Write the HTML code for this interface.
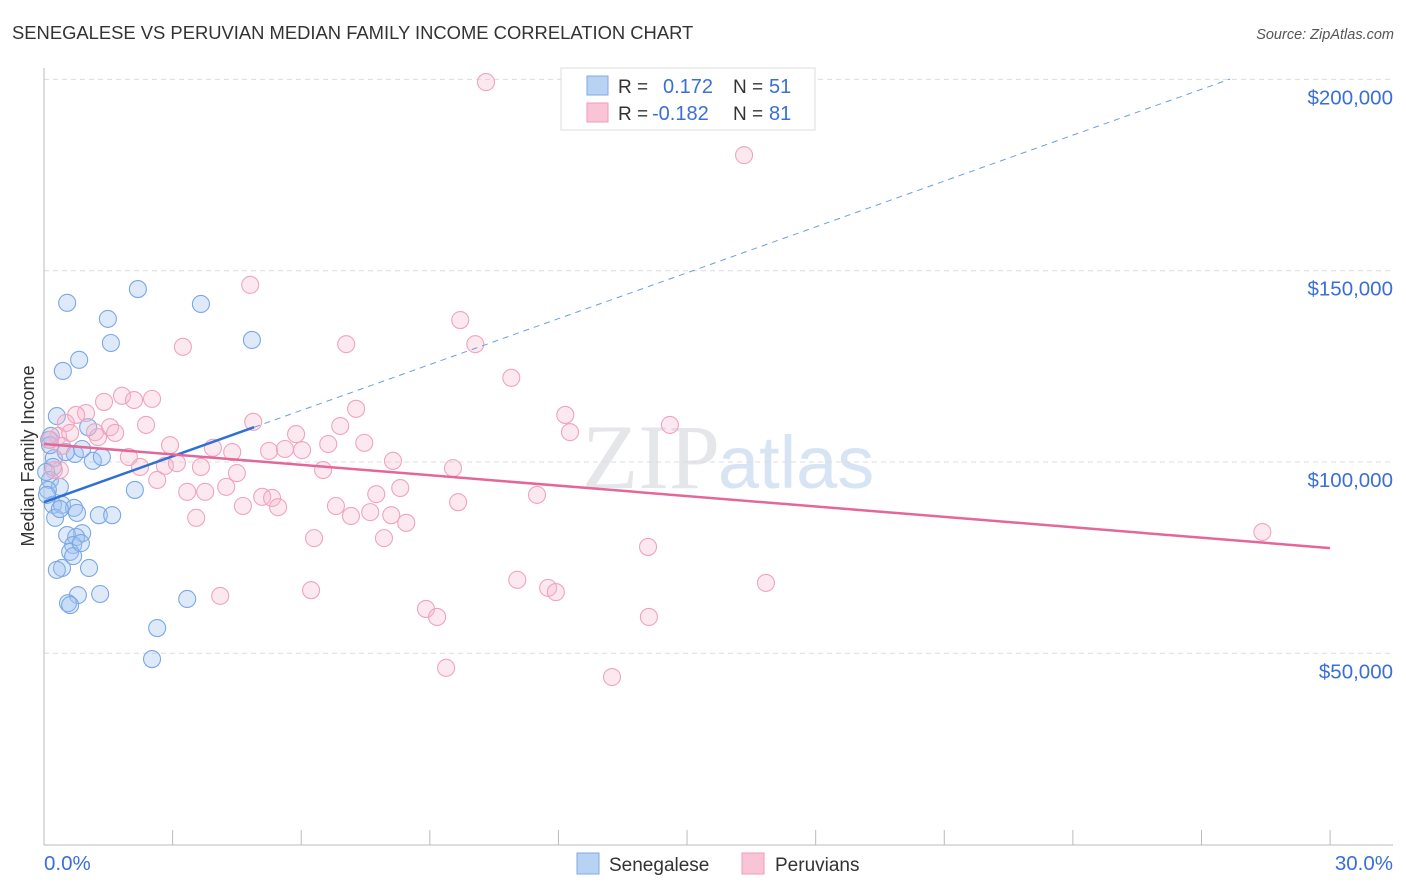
<!DOCTYPE html>
<html><head><meta charset="utf-8"><style>
body{margin:0;background:#fff;font-family:"Liberation Sans",sans-serif}
#c{position:relative;width:1406px;height:892px;overflow:hidden}
</style></head><body><div id="c">
<svg id="s" width="1406" height="892">
<text x="12" y="39" font-size="18.4" fill="#333">SENEGALESE VS PERUVIAN MEDIAN FAMILY INCOME CORRELATION CHART</text>
<text x="1394" y="39" font-size="14.5" fill="#555" text-anchor="end" font-style="italic">Source: ZipAtlas.com</text>
<text x="720" y="488" font-size="92" fill="#e4e6ea" text-anchor="end" font-family="Liberation Serif,serif">ZIP</text>
<text x="718" y="488" font-size="74" fill="#d6e4f4">atlas</text>
<text transform="translate(34,456) rotate(-90)" font-size="18" fill="#333" text-anchor="middle">Median Family Income</text>
<g id="grid"></g><g id="pts"></g><g id="lines"></g>
<g>
<rect x="561" y="68" width="254" height="62" fill="#fff" stroke="#ddd"/>
<rect x="587" y="76" width="21" height="19" fill="#b8d2f4" stroke="#7ea9e6"/>
<rect x="587" y="103" width="21" height="19" fill="#f9c5d6" stroke="#f09ab8"/>
<text x="618" y="93" font-size="19" fill="#333">R =</text>
<text x="663" y="93" font-size="20" fill="#3a6fd8">0.172</text>
<text x="733" y="93" font-size="19" fill="#333">N =</text>
<text x="769" y="93" font-size="20" fill="#3a6fd8">51</text>
<text x="618" y="120" font-size="19" fill="#333">R =</text>
<text x="652" y="120" font-size="20" fill="#3a6fd8">-0.182</text>
<text x="733" y="120" font-size="19" fill="#333">N =</text>
<text x="769" y="120" font-size="20" fill="#3a6fd8">81</text>
</g>
<g>
<rect x="577" y="853" width="22" height="21" fill="#b8d2f4" stroke="#7ea9e6"/>
<text x="609" y="871" font-size="19" fill="#333">Senegalese</text>
<rect x="742" y="853" width="22" height="21" fill="#f9c5d6" stroke="#f09ab8"/>
<text x="775" y="871" font-size="19" fill="#333">Peruvians</text>
</g>
</svg></div>
<script>
const blueX=[0.54,2.19,3.66,1.49,1.56,4.85,0.82,0.44,0.30,0.16,1.03,0.72,0.23,0.51,1.14,1.35,0.89,0.21,0.14,0.37,0.09,2.12,0.21,0.42,0.70,1.28,1.59,0.26,0.77,0.54,0.89,0.75,0.68,0.61,0.68,1.05,0.42,0.30,0.79,1.31,0.56,0.61,3.34,2.64,2.52,0.12,0.07,0.05,0.14,0.37,0.86];
const blueY=[141.6,145.2,141.3,137.4,131.1,131.9,126.7,123.8,112.0,106.8,109.1,102.1,101.0,102.6,100.3,101.3,103.4,98.7,95.3,93.5,92.7,92.7,88.8,88.8,88.0,86.1,86.1,85.4,86.7,80.9,81.4,80.4,78.3,76.5,75.4,72.3,72.3,71.8,65.2,65.5,63.1,62.6,64.2,56.6,48.5,105.8,91.4,97.4,104.4,87.7,78.8];
const pinkX=[10.31,16.33,4.81,9.71,3.24,7.05,10.06,10.90,1.82,2.52,2.10,1.40,7.28,12.16,4.88,2.38,0.98,0.75,0.51,0.33,0.61,0.14,1.19,1.54,1.66,1.26,14.60,5.88,6.91,12.27,3.94,4.39,5.25,5.62,6.02,6.63,7.47,2.94,1.98,8.14,0.37,2.24,2.82,3.10,3.66,4.50,6.51,9.54,2.64,3.34,3.76,4.25,5.09,5.32,5.46,4.64,6.81,7.75,8.31,9.66,11.50,7.16,7.61,8.10,8.45,3.55,6.30,7.93,14.09,28.42,11.04,11.76,11.94,16.84,6.23,4.11,8.91,9.17,14.11,9.38,13.25,0.23,0.42];
const pinkY=[199.3,180.2,146.3,137.1,130.1,130.8,130.8,122.0,117.3,116.5,116.2,115.7,113.9,112.3,110.5,109.7,112.8,112.3,110.2,106.8,107.6,105.8,107.8,109.1,107.6,106.5,109.7,107.3,109.4,107.8,103.7,102.6,102.9,103.4,103.1,104.7,105.0,104.4,101.3,100.3,97.9,98.7,99.0,99.7,98.7,97.1,97.9,98.4,95.3,92.2,92.2,93.5,90.9,90.6,88.2,88.5,88.5,91.6,93.2,89.5,91.4,85.9,86.9,86.1,84.1,85.4,80.1,80.1,77.8,81.7,69.2,67.1,66.0,68.4,66.5,65.0,61.6,59.5,59.5,46.2,43.8,97.9,104.2];
const yTicks=[50,100,150,200];
const yTickLabels=["$50,000","$100,000","$150,000","$200,000"];
const blueTrend=[89.5,200.1]; // at x=0 and x=27.67
const pinkTrend=[104.7,77.5]; // at x=0 and x=30
const NS="http://www.w3.org/2000/svg";
const sx=v=>44+v*42.87;
const sy=v=>462-(v-100)*3.826;
function mk(tag,attrs,parent){const e=document.createElementNS(NS,tag);for(const k in attrs)e.setAttribute(k,attrs[k]);parent.appendChild(e);return e;}
const grid=document.getElementById('grid');
yTicks.forEach((t,i)=>{
 const l=mk('line',{x1:44,x2:1393,y1:sy(t),y2:sy(t),stroke:'#dcdcdc','stroke-dasharray':'5,4'},grid);
 
 
 const tx=mk('text',{x:1393,y:sy(t)+25,'font-size':20.5,fill:'#3a6fd8','text-anchor':'end'},grid);
 tx.textContent=yTickLabels[i];
 
 
});
mk('line',{x1:44,x2:44,y1:68,y2:845,stroke:'#bbb'},grid);
mk('line',{x1:44,x2:1393,y1:845,y2:845,stroke:'#bbb'},grid);
for(let i=0;i<=10;i++){const x=sx(i*3);const t=mk('line',{x1:x,x2:x,y1:830,y2:845,stroke:'#bbb'},grid);
 
 }
const xl0=mk('text',{x:44,y:870,'font-size':20.5,fill:'#3a6fd8'},grid);xl0.textContent='0.0%';


const xl1=mk('text',{x:1393,y:870,'font-size':20.5,fill:'#3a6fd8','text-anchor':'end'},grid);xl1.textContent='30.0%';


const pts=document.getElementById('pts');
blueX.forEach((x,i)=>{const c=mk('circle',{cx:sx(x),cy:sy(blueY[i]),r:8.5,fill:'rgba(160,196,240,0.35)',stroke:'#7aa8e4','stroke-width':1.1},pts);
 
 });
pinkX.forEach((x,i)=>{const c=mk('circle',{cx:sx(x),cy:sy(pinkY[i]),r:8.5,fill:'rgba(246,182,204,0.3)',stroke:'#f0a3be','stroke-width':1.1},pts);
 
 });
const lines=document.getElementById('lines');
const bAt=x=>blueTrend[0]+(blueTrend[1]-blueTrend[0])*x/27.67;
const bl=mk('line',{x1:sx(0),y1:sy(bAt(0)),x2:sx(4.9),y2:sy(bAt(4.9)),stroke:'#2f6fd6','stroke-width':2.5},lines);


const bd=mk('line',{x1:sx(4.9),y1:sy(bAt(4.9)),x2:sx(27.67),y2:sy(bAt(27.67)),stroke:'#6b9fe0','stroke-width':1,'stroke-dasharray':'6,5'},lines);


const pl=mk('line',{x1:sx(0),y1:sy(pinkTrend[0]),x2:sx(30),y2:sy(pinkTrend[1]),stroke:'#e4679a','stroke-width':2.5},lines);


</script></body></html>
